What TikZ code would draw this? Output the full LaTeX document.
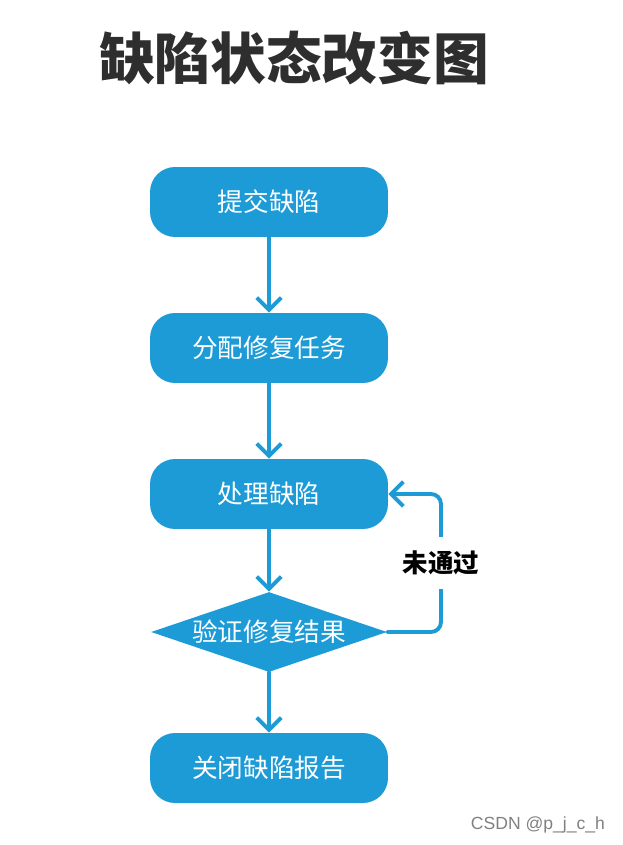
\documentclass[tikz,border=0pt]{standalone}
\usepackage{fontspec}
\setmainfont{Liberation Sans}
\newfontfamily\cjk{Noto Sans CJK SC}
\usetikzlibrary{shapes.geometric,arrows.meta}
\definecolor{flowblue}{HTML}{1D9BD6}
\definecolor{titlegray}{HTML}{2E2E2E}
\begin{document}
\begin{tikzpicture}[x=0.02cm,y=-0.02cm,line cap=round,line join=round,
  >={Straight Barb[length=7pt,width=14pt,line width=2.2pt]},
  stepbox/.style={fill=flowblue,rounded corners=0.5cm,minimum width=4.76cm,minimum height=1.4cm,
    text=white,font=\cjk\fontsize{14.6}{16}\selectfont},
  checkbox/.style={diamond,fill=flowblue,aspect=2.95,inner sep=0pt,minimum width=4.72cm,minimum height=1.6cm,
    text=white,font=\cjk\fontsize{14.6}{16}\selectfont},
  flow/.style={draw=flowblue,line width=2.2pt,->}]
  \useasboundingbox (0,0) rectangle (622,845);
  \node[text=titlegray,font=\cjk\bfseries\fontsize{31.7}{34}\selectfont] (title) at (294,58) {缺陷状态改变图};
  \node[stepbox] (submit) at (269,202) {提交缺陷};
  \node[stepbox] (assign) at (269,348) {分配修复任务};
  \node[stepbox] (handle) at (269,494) {处理缺陷};
  \node[checkbox] (verify) at (269,632) {验证修复结果};
  \node[stepbox] (close) at (269,768) {关闭缺陷报告};
  \draw[flow] (submit) -- (assign);
  \draw[flow] (assign) -- (handle);
  \draw[flow] (handle) -- (verify);
  \draw[flow] (verify) -- (close);
  \draw[flow,rounded corners=0.2cm] (verify.east) -| (441,494) -- (handle.east);
  \node[fill=white,inner xsep=2pt,inner ysep=8pt,font=\cjk\bfseries\fontsize{14.5}{16}\selectfont] (fail) at (441,563) {未通过};
  \node[text=gray,font=\fontsize{10}{11}\selectfont] (mark) at (538,825) {CSDN @p\_j\_c\_h};
\end{tikzpicture}
\end{document}
